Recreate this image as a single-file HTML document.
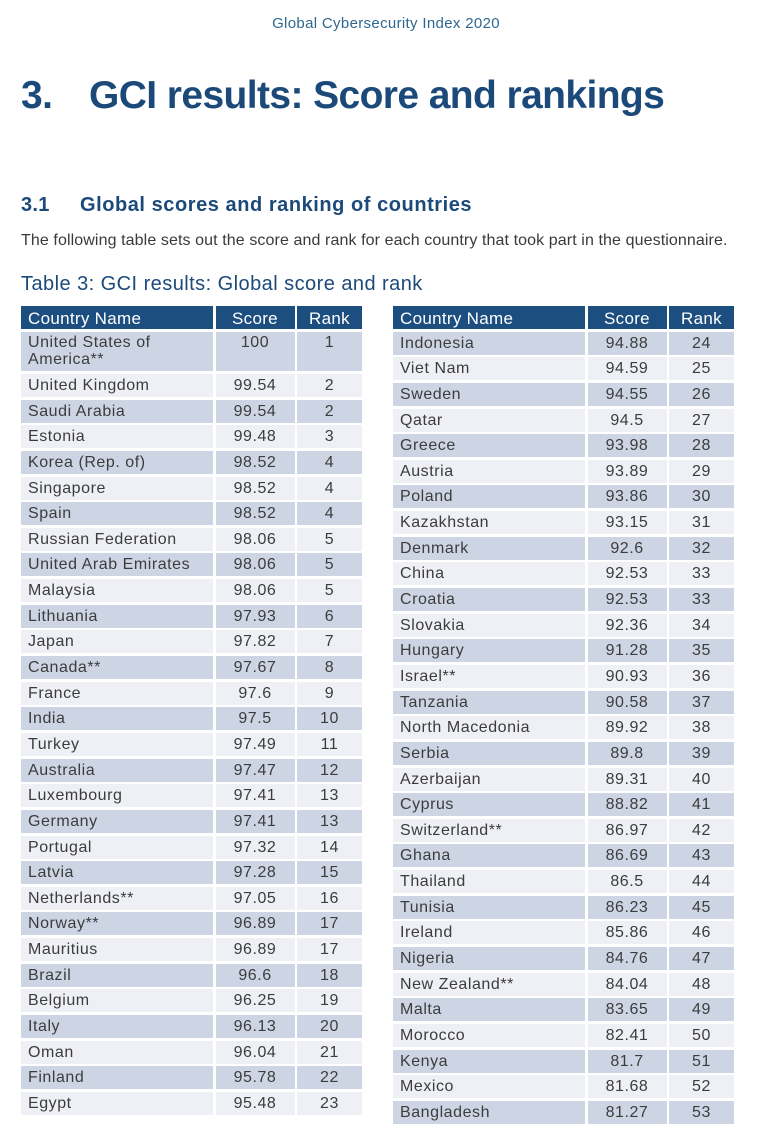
<!DOCTYPE html>
<html>
<head>
<meta charset="utf-8">
<style>
html,body{margin:0;padding:0;background:#fff;}
body{width:760px;height:1139px;position:relative;overflow:hidden;font-family:"Liberation Sans",sans-serif;}
.t{position:absolute;white-space:nowrap;line-height:1;}
#hdr{left:0;width:772px;text-align:center;top:16.3px;font-size:15px;color:#2f6790;letter-spacing:0.33px;}
#title{left:21px;top:76px;font-size:39px;font-weight:bold;color:#1b4a7a;letter-spacing:-0.6px;}
#title span{display:inline-block;width:68px;}
#sub{left:21px;top:194.8px;font-size:20px;font-weight:bold;color:#1b4a7a;letter-spacing:0.55px;}
#sub span{display:inline-block;width:59px;letter-spacing:0.3px;}
#para{left:21px;top:232.5px;font-size:16px;color:#3a3a3a;letter-spacing:0.1px;}
#cap{left:21px;top:274px;font-size:20px;color:#1b4a7a;letter-spacing:0.45px;}
.g{position:absolute;top:306px;display:grid;grid-template-columns:192px 79px 65px;column-gap:2.5px;row-gap:2.65px;}
.g div{font-size:16px;letter-spacing:0.55px;color:#3c3c3c;line-height:23px;height:23px;overflow:visible;white-space:nowrap;}
.g div.h{background:#1d4e80;color:#fff;font-size:17px;letter-spacing:0.3px;line-height:25px;}
.g div.n{padding-left:7px;}
.g div.c{text-align:center;}
.g div.d{background:#cdd5e4;}
.g div.l{background:#eef0f5;}
.g div.usa{height:39.7px;line-height:17px;padding-top:2.3px;box-sizing:border-box;white-space:normal;}
#L{left:21px;}
#R{left:393px;}
</style>
</head>
<body>
<div class="t" id="hdr">Global Cybersecurity Index 2020</div>
<div class="t" id="title"><span>3.</span>GCI results: Score and rankings</div>
<div class="t" id="sub"><span>3.1</span>Global scores and ranking of countries</div>
<div class="t" id="para">The following table sets out the score and rank for each country that took part in the questionnaire.</div>
<div class="t" id="cap">Table 3: GCI results: Global score and rank</div>

<div class="g" id="L">
<div class="h n">Country Name</div><div class="h c">Score</div><div class="h c">Rank</div>
<div class="d n usa">United States of<br>America**</div><div class="d c usa">100</div><div class="d c usa">1</div>
<div class="l n">United Kingdom</div><div class="l c">99.54</div><div class="l c">2</div>
<div class="d n">Saudi Arabia</div><div class="d c">99.54</div><div class="d c">2</div>
<div class="l n">Estonia</div><div class="l c">99.48</div><div class="l c">3</div>
<div class="d n">Korea (Rep. of)</div><div class="d c">98.52</div><div class="d c">4</div>
<div class="l n">Singapore</div><div class="l c">98.52</div><div class="l c">4</div>
<div class="d n">Spain</div><div class="d c">98.52</div><div class="d c">4</div>
<div class="l n">Russian Federation</div><div class="l c">98.06</div><div class="l c">5</div>
<div class="d n">United Arab Emirates</div><div class="d c">98.06</div><div class="d c">5</div>
<div class="l n">Malaysia</div><div class="l c">98.06</div><div class="l c">5</div>
<div class="d n">Lithuania</div><div class="d c">97.93</div><div class="d c">6</div>
<div class="l n">Japan</div><div class="l c">97.82</div><div class="l c">7</div>
<div class="d n">Canada**</div><div class="d c">97.67</div><div class="d c">8</div>
<div class="l n">France</div><div class="l c">97.6</div><div class="l c">9</div>
<div class="d n">India</div><div class="d c">97.5</div><div class="d c">10</div>
<div class="l n">Turkey</div><div class="l c">97.49</div><div class="l c">11</div>
<div class="d n">Australia</div><div class="d c">97.47</div><div class="d c">12</div>
<div class="l n">Luxembourg</div><div class="l c">97.41</div><div class="l c">13</div>
<div class="d n">Germany</div><div class="d c">97.41</div><div class="d c">13</div>
<div class="l n">Portugal</div><div class="l c">97.32</div><div class="l c">14</div>
<div class="d n">Latvia</div><div class="d c">97.28</div><div class="d c">15</div>
<div class="l n">Netherlands**</div><div class="l c">97.05</div><div class="l c">16</div>
<div class="d n">Norway**</div><div class="d c">96.89</div><div class="d c">17</div>
<div class="l n">Mauritius</div><div class="l c">96.89</div><div class="l c">17</div>
<div class="d n">Brazil</div><div class="d c">96.6</div><div class="d c">18</div>
<div class="l n">Belgium</div><div class="l c">96.25</div><div class="l c">19</div>
<div class="d n">Italy</div><div class="d c">96.13</div><div class="d c">20</div>
<div class="l n">Oman</div><div class="l c">96.04</div><div class="l c">21</div>
<div class="d n">Finland</div><div class="d c">95.78</div><div class="d c">22</div>
<div class="l n">Egypt</div><div class="l c">95.48</div><div class="l c">23</div>
</div>

<div class="g" id="R">
<div class="h n">Country Name</div><div class="h c">Score</div><div class="h c">Rank</div>
<div class="d n">Indonesia</div><div class="d c">94.88</div><div class="d c">24</div>
<div class="l n">Viet Nam</div><div class="l c">94.59</div><div class="l c">25</div>
<div class="d n">Sweden</div><div class="d c">94.55</div><div class="d c">26</div>
<div class="l n">Qatar</div><div class="l c">94.5</div><div class="l c">27</div>
<div class="d n">Greece</div><div class="d c">93.98</div><div class="d c">28</div>
<div class="l n">Austria</div><div class="l c">93.89</div><div class="l c">29</div>
<div class="d n">Poland</div><div class="d c">93.86</div><div class="d c">30</div>
<div class="l n">Kazakhstan</div><div class="l c">93.15</div><div class="l c">31</div>
<div class="d n">Denmark</div><div class="d c">92.6</div><div class="d c">32</div>
<div class="l n">China</div><div class="l c">92.53</div><div class="l c">33</div>
<div class="d n">Croatia</div><div class="d c">92.53</div><div class="d c">33</div>
<div class="l n">Slovakia</div><div class="l c">92.36</div><div class="l c">34</div>
<div class="d n">Hungary</div><div class="d c">91.28</div><div class="d c">35</div>
<div class="l n">Israel**</div><div class="l c">90.93</div><div class="l c">36</div>
<div class="d n">Tanzania</div><div class="d c">90.58</div><div class="d c">37</div>
<div class="l n">North Macedonia</div><div class="l c">89.92</div><div class="l c">38</div>
<div class="d n">Serbia</div><div class="d c">89.8</div><div class="d c">39</div>
<div class="l n">Azerbaijan</div><div class="l c">89.31</div><div class="l c">40</div>
<div class="d n">Cyprus</div><div class="d c">88.82</div><div class="d c">41</div>
<div class="l n">Switzerland**</div><div class="l c">86.97</div><div class="l c">42</div>
<div class="d n">Ghana</div><div class="d c">86.69</div><div class="d c">43</div>
<div class="l n">Thailand</div><div class="l c">86.5</div><div class="l c">44</div>
<div class="d n">Tunisia</div><div class="d c">86.23</div><div class="d c">45</div>
<div class="l n">Ireland</div><div class="l c">85.86</div><div class="l c">46</div>
<div class="d n">Nigeria</div><div class="d c">84.76</div><div class="d c">47</div>
<div class="l n">New Zealand**</div><div class="l c">84.04</div><div class="l c">48</div>
<div class="d n">Malta</div><div class="d c">83.65</div><div class="d c">49</div>
<div class="l n">Morocco</div><div class="l c">82.41</div><div class="l c">50</div>
<div class="d n">Kenya</div><div class="d c">81.7</div><div class="d c">51</div>
<div class="l n">Mexico</div><div class="l c">81.68</div><div class="l c">52</div>
<div class="d n">Bangladesh</div><div class="d c">81.27</div><div class="d c">53</div>
</div>
</body>
</html>
